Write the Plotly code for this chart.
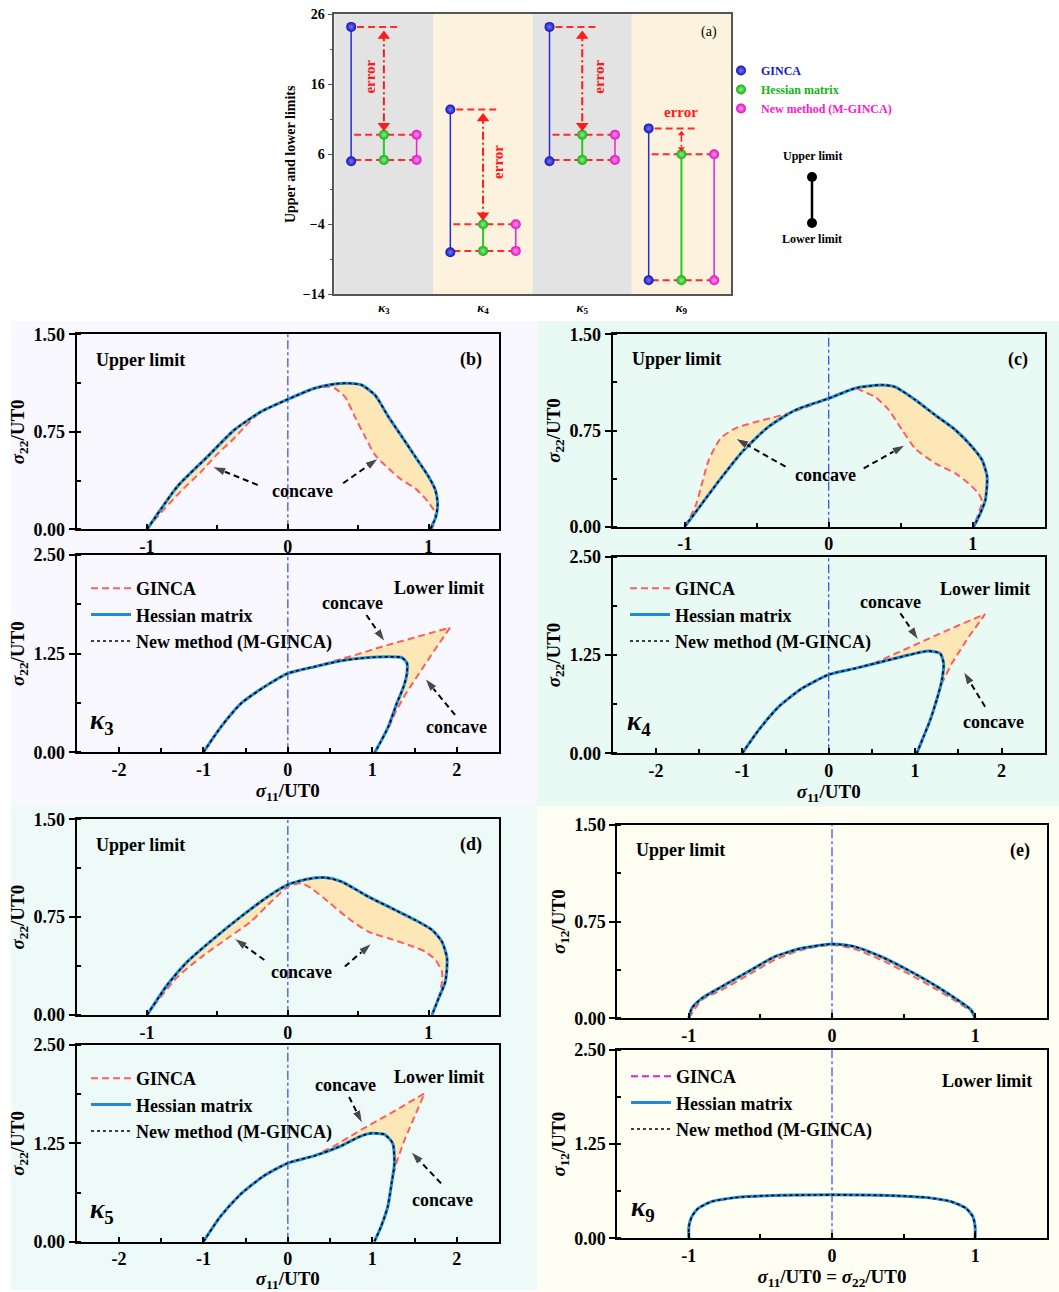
import plotly.graph_objects as go

W, H = 1059, 1292
SERIF = "Liberation Serif"

# ---------------- (a) upper / lower limits of each loading case ----------------
CASE_LABELS = ["<i>κ</i><sub>3</sub>", "<i>κ</i><sub>4</sub>", "<i>κ</i><sub>5</sub>", "<i>κ</i><sub>9</sub>"]
GINCA_UPPER = [24.2, 12.4, 24.2, 9.7]
GINCA_LOWER = [5.0, -8.0, 5.0, -12.0]
HESSIAN_UPPER = [8.8, -4.0, 8.8, 6.0]
HESSIAN_LOWER = [5.2, -7.8, 5.2, -12.0]
MGINCA_UPPER = [8.8, -4.0, 8.8, 6.0]
MGINCA_LOWER = [5.2, -7.8, 5.2, -12.0]
A_Y_TICKS = [-14, -4, 6, 16, 26]

# ---------------- yield-surface sections (x, y pairs) ----------------
# kappa_3
K3_UP_HESS_X = [-1.0, -0.786, -0.571, -0.381, -0.190, 0.0, 0.190, 0.333, 0.429, 0.524, 0.619, 0.714, 0.810, 0.905, 1.0, 1.048, 1.064, 1.052, 1.012]
K3_UP_HESS_Y = [0.0, 0.328, 0.559, 0.764, 0.905, 1.0, 1.085, 1.118, 1.123, 1.110, 1.033, 0.867, 0.713, 0.559, 0.405, 0.303, 0.200, 0.097, 0.0]
K3_UP_GINCA_X = [-1.0, -0.905, -0.762, -0.619, -0.5, -0.381, -0.31, -0.190, 0.0, 0.190, 0.286, 0.333, 0.405, 0.476, 0.548, 0.619, 0.714, 0.810, 0.905, 0.976, 1.036, 1.048, 1.024]
K3_UP_GINCA_Y = [0.0, 0.123, 0.290, 0.440, 0.58, 0.70, 0.785, 0.905, 1.0, 1.085, 1.097, 1.085, 1.020, 0.867, 0.713, 0.572, 0.469, 0.379, 0.315, 0.238, 0.149, 0.085, 0.0]
K3_LO_HESS_X = [-1.0, -0.79, -0.554, -0.277, 0.0, 0.317, 0.634, 0.95, 1.188, 1.35, 1.41, 1.41, 1.37, 1.29, 1.19, 1.09, 1.03]
K3_LO_HESS_Y = [0.0, 0.325, 0.62, 0.83, 1.0, 1.085, 1.16, 1.20, 1.21, 1.20, 1.13, 1.0, 0.83, 0.62, 0.325, 0.114, 0.0]
K3_LO_GINCA_X = [-1.0, -0.79, -0.554, -0.277, 0.0, 0.317, 0.554, 0.79, 1.15, 1.545, 1.92, 1.74, 1.545, 1.386, 1.267, 1.208, 1.109, 1.03]
K3_LO_GINCA_Y = [0.0, 0.325, 0.62, 0.83, 1.0, 1.085, 1.16, 1.23, 1.35, 1.465, 1.58, 1.30, 0.98, 0.726, 0.494, 0.346, 0.156, 0.0]

# kappa_4
K4_UP_HESS_X = [-1.0, -0.88, -0.74, -0.60, -0.417, -0.23, 0.0, 0.185, 0.37, 0.46, 0.60, 0.74, 0.88, 0.995, 1.065, 1.10, 1.088, 1.053, 1.007]
K4_UP_HESS_Y = [0.0, 0.18, 0.39, 0.585, 0.78, 0.91, 1.0, 1.08, 1.105, 1.09, 0.99, 0.87, 0.754, 0.624, 0.52, 0.39, 0.208, 0.104, 0.0]
K4_UP_GINCA_X = [-1.0, -0.926, -0.833, -0.75, -0.648, -0.463, -0.278, -0.185, 0.0, 0.185, 0.23, 0.324, 0.417, 0.51, 0.60, 0.74, 0.88, 0.97, 1.04, 1.065, 1.04, 1.007]
K4_UP_GINCA_Y = [0.0, 0.156, 0.52, 0.69, 0.767, 0.83, 0.884, 0.92, 1.0, 1.08, 1.06, 1.01, 0.91, 0.754, 0.61, 0.494, 0.416, 0.338, 0.26, 0.195, 0.104, 0.0]
K4_LO_HESS_X = [-1.0, -0.81, -0.578, -0.308, 0.0, 0.308, 0.617, 0.925, 1.156, 1.29, 1.33, 1.31, 1.25, 1.175, 1.098, 1.02]
K4_LO_HESS_Y = [0.0, 0.297, 0.593, 0.826, 1.0, 1.08, 1.165, 1.25, 1.30, 1.27, 1.144, 0.93, 0.68, 0.424, 0.212, 0.0]
K4_LO_GINCA_X = [-1.0, -0.81, -0.578, -0.308, 0.0, 0.308, 0.50, 0.694, 1.04, 1.425, 1.81, 1.62, 1.425, 1.31, 1.233, 1.175, 1.098, 1.02]
K4_LO_GINCA_Y = [0.0, 0.297, 0.593, 0.826, 1.0, 1.08, 1.13, 1.229, 1.40, 1.59, 1.77, 1.48, 1.144, 0.89, 0.636, 0.424, 0.212, 0.0]

# kappa_5
K5_UP_HESS_X = [-1.0, -0.857, -0.714, -0.524, -0.333, -0.143, 0.0, 0.143, 0.262, 0.381, 0.571, 0.762, 0.905, 1.024, 1.095, 1.131, 1.119, 1.071, 1.024]
K5_UP_HESS_Y = [0.0, 0.23, 0.409, 0.588, 0.754, 0.907, 1.0, 1.043, 1.053, 1.022, 0.907, 0.805, 0.728, 0.652, 0.562, 0.434, 0.256, 0.128, 0.0]
K5_UP_GINCA_X = [-1.0, -0.929, -0.786, -0.619, -0.429, -0.262, -0.143, -0.048, 0.0, 0.095, 0.167, 0.286, 0.429, 0.571, 0.714, 0.857, 0.976, 1.048, 1.095, 1.095, 1.071, 1.024]
K5_UP_GINCA_Y = [0.0, 0.102, 0.290, 0.440, 0.588, 0.716, 0.843, 0.94, 0.984, 1.01, 0.971, 0.869, 0.741, 0.639, 0.588, 0.537, 0.486, 0.422, 0.332, 0.256, 0.128, 0.0]
K5_LO_HESS_X = [-1.0, -0.8, -0.563, -0.286, 0.0, 0.31, 0.627, 0.865, 0.984, 1.143, 1.242, 1.262, 1.222, 1.183, 1.103, 1.024]
K5_LO_HESS_Y = [0.0, 0.318, 0.6, 0.835, 1.0, 1.09, 1.216, 1.343, 1.377, 1.364, 1.25, 0.996, 0.699, 0.445, 0.19, 0.0]
K5_LO_GINCA_X = [-1.0, -0.8, -0.563, -0.286, 0.0, 0.31, 0.548, 0.865, 1.262, 1.619, 1.5, 1.38, 1.283, 1.235, 1.183, 1.103, 1.024]
K5_LO_GINCA_Y = [0.0, 0.318, 0.6, 0.835, 1.0, 1.09, 1.216, 1.42, 1.66, 1.886, 1.59, 1.29, 0.996, 0.784, 0.445, 0.19, 0.0]

# kappa_9
K9_UP_HESS_X = [-1.0, -0.98, -0.91, -0.77, -0.586, -0.4, -0.214, 0.0, 0.158, 0.344, 0.53, 0.716, 0.879, 0.972, 1.0]
K9_UP_HESS_Y = [0.0, 0.078, 0.155, 0.246, 0.362, 0.478, 0.543, 0.577, 0.556, 0.478, 0.375, 0.259, 0.142, 0.065, 0.0]
K9_UP_GINCA_X = [-1.0, -0.91, -0.77, -0.586, -0.4, -0.214, 0.0, 0.158, 0.344, 0.53, 0.716, 0.879, 0.972, 1.0]
K9_UP_GINCA_Y = [0.0, 0.142, 0.22, 0.336, 0.453, 0.53, 0.569, 0.538, 0.453, 0.349, 0.233, 0.124, 0.052, 0.0]
K9_LO_HESS_X = [-1.0, -1.0, -0.98, -0.935, -0.842, -0.679, -0.447, 0.0, 0.437, 0.67, 0.833, 0.937, 0.984, 1.0, 1.0]
K9_LO_HESS_Y = [0.0, 0.155, 0.288, 0.398, 0.487, 0.54, 0.566, 0.577, 0.566, 0.54, 0.487, 0.398, 0.288, 0.155, 0.0]
K9_LO_GINCA_X = [-1.0, -1.0, -0.98, -0.935, -0.842, -0.679, -0.447, 0.0, 0.437, 0.67, 0.833, 0.937, 0.984, 1.0, 1.0]
K9_LO_GINCA_Y = [0.0, 0.155, 0.288, 0.398, 0.487, 0.54, 0.566, 0.577, 0.566, 0.54, 0.487, 0.398, 0.288, 0.155, 0.0]

X_TICKS_UP = [-1, 0, 1]
X_TICKS_LO = [-2, -1, 0, 1, 2]

# ---------------- styling ----------------
C_GINCA = "#f96060"
C_HESS = "#1f8ad8"
C_FILL = "#fde7b6"
C_ZERO = "#2a45ff"


def font(size, color="black", bold=True, italic=False):
    return dict(family=SERIF, size=size, color=color,
                weight="bold" if bold else "normal",
                style="italic" if italic else "normal")


def fx(px):
    return px / W


def fy(py):
    return 1 - py / H


# subplot boxes in pixels: left, top, right, bottom
BOXES = [
    (334.3, 14.3, 731.0, 294.3),   # 1  (a)
    (76.7, 334.3, 499.0, 529.3),   # 2  (b) upper
    (76.7, 555.0, 499.0, 752.3),   # 3  (b) lower
    (612.7, 334.3, 1044.7, 526.7), # 4  (c) upper
    (612.7, 556.7, 1044.7, 753.3), # 5  (c) lower
    (76.7, 819.3, 499.0, 1015.0),  # 6  (d) upper
    (76.7, 1045.0, 499.0, 1241.7), # 7  (d) lower
    (617.3, 825.0, 1046.7, 1018.3),# 8  (e) upper
    (617.3, 1050.0, 1046.7, 1238.3)# 9  (e) lower
]


def ax_names(n):
    return ("xaxis" if n == 1 else f"xaxis{n}", "yaxis" if n == 1 else f"yaxis{n}",
            "x" if n == 1 else f"x{n}", "y" if n == 1 else f"y{n}")


fig = go.Figure()
layout_axes = {}
shapes = []
annotations = []

# panel background tints
for (x0, y0, x1, y1, col) in [(11, 321, 537, 806, "#f8f8fe"), (537, 321, 1059, 806, "#e9f9f3"),
                              (11, 806, 537, 1290, "#eefaf8"), (537, 806, 1059, 1292, "#fefef3")]:
    shapes.append(dict(type="rect", xref="paper", yref="paper", x0=fx(x0), x1=fx(x1), y0=fy(y1), y1=fy(y0),
                       fillcolor=col, line=dict(width=0), layer="below"))

# ---------------- panel (a) ----------------
xa, ya, xr, yr = ax_names(1)
l, t, r, b = BOXES[0]
layout_axes[xa] = dict(domain=[fx(l), fx(r)], range=[0, 4], anchor=yr, tickvals=[0.5, 1.5, 2.5, 3.5],
                       ticktext=CASE_LABELS, ticks="", showline=True, linecolor="#555555", linewidth=1.5,
                       mirror=True, showgrid=False, zeroline=False, tickfont=font(13), fixedrange=True,
                       automargin=False)
layout_axes[ya] = dict(domain=[fy(b), fy(t)], range=[-14, 26], anchor=xr, tickvals=A_Y_TICKS,
                       ticks="outside", ticklen=5, tickwidth=1.2, tickcolor="#555555",
                       minor=dict(dtick=5, tick0=-14, ticks="outside", ticklen=3, tickcolor="#555555"),
                       showline=True, linecolor="#555555", linewidth=1.5, mirror=True, showgrid=False,
                       zeroline=False, tickfont=font(14), automargin=False,
                       title=dict(text="Upper and lower limits", font=font(14), standoff=4))

for i in range(4):
    shapes.append(dict(type="rect", xref="x", yref="y domain", x0=i, x1=i + 1, y0=0, y1=1,
                       fillcolor="#e3e3e3" if i % 2 == 0 else "#fdf2dd", line=dict(width=0), layer="below"))

methods = [
    ("GINCA", GINCA_UPPER, GINCA_LOWER, 0.17, "#1212b8", "#7878ff", "#2a2ae0", "#1515d0", 1.5),
    ("Hessian matrix", HESSIAN_UPPER, HESSIAN_LOWER, 0.5, "#12b012", "#8cf08c", "#22cc22", "#14b414", 2.0),
    ("New method (M-GINCA)", MGINCA_UPPER, MGINCA_LOWER, 0.83, "#dd10c0", "#ff9cf0", "#ee22cc", "#ff18c8", 1.5),
]

# red guide lines at the limit levels
gx, gy = [], []
for i in range(4):
    for (lev, a0, a1) in [(GINCA_UPPER[i], 0.23, 0.64), (HESSIAN_UPPER[i], 0.2, 0.87), (HESSIAN_LOWER[i], 0.2, 0.87)]:
        gx += [i + a0, i + a1, None]
        gy += [lev, lev, None]
fig.add_trace(go.Scatter(x=gx, y=gy, mode="lines", xaxis=xr, yaxis=yr, showlegend=False, hoverinfo="skip",
                         line=dict(color="#ff2a2a", width=2, dash="7px,4px")))

for name, up, lo, off, mcol, hcol, lcol, tcol, lw in methods:
    lx, ly = [], []
    for i in range(4):
        lx += [i + off, i + off, None]
        ly += [lo[i], up[i], None]
    fig.add_trace(go.Scatter(x=lx, y=ly, mode="lines", xaxis=xr, yaxis=yr, showlegend=False, hoverinfo="skip",
                             line=dict(color=lcol, width=lw)))
for name, up, lo, off, mcol, hcol, lcol, tcol, lw in methods:
    px_ = [i + off for i in range(4)]
    fig.add_trace(go.Scatter(x=px_ + px_, y=list(up) + list(lo), mode="markers", xaxis=xr, yaxis=yr,
                             name=f"<span style='color:{tcol}'>{name}</span>", legend="legend5",
                             marker=dict(size=10, color=mcol, gradient=dict(type="radial", color=hcol),
                                         line=dict(width=0))))

# error arrows between the GINCA and Hessian upper limits
for i in range(4):
    top, bot = GINCA_UPPER[i], HESSIAN_UPPER[i]
    big = (top - bot) > 5
    s = 11 if big else 6
    pad = 0.5 if big else 0.35
    head = pad + (s / 2) / 7.0
    xc = i + 0.5
    fig.add_trace(go.Scatter(x=[xc, xc], y=[top - pad - 0.4, bot + pad + 0.4], mode="lines", xaxis=xr, yaxis=yr,
                             showlegend=False, hoverinfo="skip",
                             line=dict(color="#ff1a1a", width=2 if big else 1.5, dash="8px,3px,2px,3px")))
    fig.add_trace(go.Scatter(x=[xc, xc], y=[top - head, bot + head], mode="markers", xaxis=xr, yaxis=yr,
                             showlegend=False, hoverinfo="skip",
                             marker=dict(symbol=["triangle-up", "triangle-down"], size=s, color="#ff1a1a")))

for (x, y, ang) in [(0.36, 17.1, -90), (1.65, 4.9, -90), (2.66, 17.1, -90), (3.5, 12.1, 0)]:
    annotations.append(dict(x=x, y=y, xref="x", yref="y", text="error", showarrow=False, textangle=ang,
                            xanchor="center", yanchor="middle", font=font(15, "#ff1a1a")))
annotations.append(dict(x=3.78, y=23.5, xref="x", yref="y", text="(a)", showarrow=False,
                        xanchor="center", yanchor="middle", font=font(14, bold=False)))

# upper/lower key beside panel (a)
annotations.append(dict(x=fx(812), y=fy(156), xref="paper", yref="paper", text="Upper limit", showarrow=False,
                        xanchor="center", yanchor="middle", font=font(12)))
annotations.append(dict(x=fx(812), y=fy(239), xref="paper", yref="paper", text="Lower limit", showarrow=False,
                        xanchor="center", yanchor="middle", font=font(12)))
shapes.append(dict(type="line", xref="paper", yref="paper", x0=fx(812), x1=fx(812), y0=fy(177), y1=fy(223),
                   line=dict(color="black", width=2.5)))
for cy in (177, 223):
    shapes.append(dict(type="circle", xref="paper", yref="paper", x0=fx(807), x1=fx(817), y0=fy(cy + 5),
                       y1=fy(cy - 5), fillcolor="black", line=dict(width=0)))

# ---------------- panels (b)-(e) ----------------
panels = [
    (2, 3, (K3_UP_HESS_X, K3_UP_HESS_Y, K3_UP_GINCA_X, K3_UP_GINCA_Y),
     (K3_LO_HESS_X, K3_LO_HESS_Y, K3_LO_GINCA_X, K3_LO_GINCA_Y), "(b)", "3", "22",
     "<i>σ</i><sub>11</sub>/UT0", "legend", C_GINCA, [-2.5, 2.5]),
    (4, 5, (K4_UP_HESS_X, K4_UP_HESS_Y, K4_UP_GINCA_X, K4_UP_GINCA_Y),
     (K4_LO_HESS_X, K4_LO_HESS_Y, K4_LO_GINCA_X, K4_LO_GINCA_Y), "(c)", "4", "22",
     "<i>σ</i><sub>11</sub>/UT0", "legend2", C_GINCA, [-2.5, 2.5]),
    (6, 7, (K5_UP_HESS_X, K5_UP_HESS_Y, K5_UP_GINCA_X, K5_UP_GINCA_Y),
     (K5_LO_HESS_X, K5_LO_HESS_Y, K5_LO_GINCA_X, K5_LO_GINCA_Y), "(d)", "5", "22",
     "<i>σ</i><sub>11</sub>/UT0", "legend3", C_GINCA, [-2.5, 2.5]),
    (8, 9, (K9_UP_HESS_X, K9_UP_HESS_Y, K9_UP_GINCA_X, K9_UP_GINCA_Y),
     (K9_LO_HESS_X, K9_LO_HESS_Y, K9_LO_GINCA_X, K9_LO_GINCA_Y), "(e)", "9", "12",
     "<i>σ</i><sub>11</sub>/UT0 = <i>σ</i><sub>22</sub>/UT0", "legend4", "#e81ed0", [-1.5, 1.5]),
]


def axis_common(domain, rng, anchor):
    return dict(domain=domain, range=rng, anchor=anchor, showline=True, linecolor="black", linewidth=2,
                mirror=True, showgrid=False, zeroline=False, tickfont=font(18), tickcolor="black",
                fixedrange=True, automargin=False)


def add_surface(xr, yr, hx, hy, gx_, gy_, ginca_col, ginca_shape, legend_id=None):
    shape_h = dict(shape="spline", smoothing=0.6)
    fig.add_trace(go.Scatter(x=list(hx) + list(gx_)[::-1], y=list(hy) + list(gy_)[::-1], mode="lines",
                             fill="toself", fillcolor=C_FILL, line=dict(width=0, **shape_h),
                             xaxis=xr, yaxis=yr, showlegend=False, hoverinfo="skip"))
    show = legend_id is not None
    extra = dict(legend=legend_id) if show else {}
    fig.add_trace(go.Scatter(x=gx_, y=gy_, mode="lines", name="GINCA", showlegend=show, xaxis=xr, yaxis=yr,
                             line=dict(color=ginca_col, width=2, dash="7px,4px", shape=ginca_shape,
                                       smoothing=0.6), hoverinfo="skip", **extra))
    fig.add_trace(go.Scatter(x=hx, y=hy, mode="lines", name="Hessian matrix", showlegend=show, xaxis=xr,
                             yaxis=yr, line=dict(color=C_HESS, width=3, **shape_h), hoverinfo="skip", **extra))
    # the M-GINCA section coincides with the Hessian-matrix section
    fig.add_trace(go.Scatter(x=hx, y=hy, mode="lines", name="New method (M-GINCA)", showlegend=show, xaxis=xr,
                             yaxis=yr, line=dict(color="black", width=1.6, dash="dot", **shape_h),
                             hoverinfo="skip", **extra))


for (nu, nl, up, lo, tag, case, ysub, xtitle, leg, gcol, lo_xrange) in panels:
    # upper section
    xa, ya, xr, yr = ax_names(nu)
    l, t, r, b = BOXES[nu - 1]
    layout_axes[xa] = axis_common([fx(l), fx(r)], [-1.5, 1.5], yr)
    layout_axes[xa].update(tickvals=X_TICKS_UP, ticktext=[str(v) for v in X_TICKS_UP], ticks="inside",
                           ticklen=5, tickwidth=1.5, minor=dict(dtick=0.5, tick0=0, ticks="inside", ticklen=4))
    layout_axes[ya] = axis_common([fy(b), fy(t)], [0, 1.5], xr)
    layout_axes[ya].update(tickvals=[0, 0.75, 1.5], tickformat=".2f", ticks="outside", ticklen=6, tickwidth=2,
                           minor=dict(dtick=0.375, tick0=0, ticks="inside", ticklen=4),
                           title=dict(text=f"<i>σ</i><sub>{ysub}</sub>/UT0", font=font(19), standoff=4))
    add_surface(xr, yr, *up, C_GINCA, "spline")
    shapes.append(dict(type="line", xref=xr, yref=f"{yr} domain", x0=0, x1=0, y0=0, y1=1, layer="below",
                       line=dict(color=C_ZERO, width=1.2, dash="dashdot")))
    annotations.append(dict(x=0.04, y=0.87, xref=f"{xr} domain", yref=f"{yr} domain", text="Upper limit",
                            xanchor="left", yanchor="middle", showarrow=False, font=font(18)))
    annotations.append(dict(x=0.965, y=0.87, xref=f"{xr} domain", yref=f"{yr} domain", text=tag,
                            xanchor="right", yanchor="middle", showarrow=False, font=font(18)))

    # lower section
    xa, ya, xr, yr = ax_names(nl)
    l, t, r, b = BOXES[nl - 1]
    ticks_lo = X_TICKS_LO if lo_xrange[1] > 2 else X_TICKS_UP
    layout_axes[xa] = axis_common([fx(l), fx(r)], lo_xrange, yr)
    layout_axes[xa].update(tickvals=ticks_lo, ticktext=[str(v) for v in ticks_lo], ticks="inside", ticklen=5,
                           tickwidth=1.5, minor=dict(dtick=0.5, tick0=0, ticks="inside", ticklen=4),
                           title=dict(text=xtitle, font=font(19), standoff=2))
    layout_axes[ya] = axis_common([fy(b), fy(t)], [0, 2.5], xr)
    layout_axes[ya].update(tickvals=[0, 1.25, 2.5], tickformat=".2f", ticks="outside", ticklen=6, tickwidth=2,
                           minor=dict(dtick=0.625, tick0=0, ticks="inside", ticklen=4),
                           title=dict(text=f"<i>σ</i><sub>{ysub}</sub>/UT0", font=font(19), standoff=4))
    add_surface(xr, yr, *lo, gcol, "linear", legend_id=leg)
    shapes.append(dict(type="line", xref=xr, yref=f"{yr} domain", x0=0, x1=0, y0=0, y1=1, layer="below",
                       line=dict(color=C_ZERO, width=1.2, dash="dashdot")))
    annotations.append(dict(x=0.97, y=0.835, xref=f"{xr} domain", yref=f"{yr} domain", text="Lower limit",
                            xanchor="right", yanchor="middle", showarrow=False, font=font(18)))
    annotations.append(dict(x=0.06, y=0.155, xref=f"{xr} domain", yref=f"{yr} domain",
                            text=f"<i>κ</i><sub>{case}</sub>", xanchor="center", yanchor="middle",
                            showarrow=False, font=font(27)))

# "concave" labels with dashed pointer arrows: (axis no., text position, list of (tail, head))
CONCAVE = [
    (2, (0.107, 0.297), [((-0.214, 0.341), (-0.536, 0.482)), ((0.393, 0.354), (0.643, 0.546))]),
    (3, (0.76, 1.89), [((0.93, 1.74), (1.15, 1.40))]),
    (3, (2.0, 0.325), [((1.98, 0.473), (1.624, 0.937))]),
    (4, (-0.023, 0.403), [((-0.30, 0.468), (-0.648, 0.689)), ((0.243, 0.455), (0.532, 0.637))]),
    (5, (0.713, 1.928), [((0.83, 1.78), (1.04, 1.44))]),
    (5, (1.91, 0.40), [((1.81, 0.593), (1.56, 1.04))]),
    (6, (0.095, 0.332), [((-0.167, 0.422), (-0.381, 0.588)), ((0.405, 0.371), (0.595, 0.549))]),
    (7, (0.685, 1.99), [((0.725, 1.84), (0.883, 1.504))]),
    (7, (1.834, 0.53), [((1.814, 0.742), (1.457, 1.144))]),
]
for n, (tx, ty), arrows in CONCAVE:
    _, _, xr, yr = ax_names(n)
    annotations.append(dict(x=tx, y=ty, xref=xr, yref=yr, text="concave", showarrow=False,
                            xanchor="center", yanchor="middle", font=font(18)))
    for (t0, t1) in arrows:
        fig.add_trace(go.Scatter(x=[t0[0], t1[0]], y=[t0[1], t1[1]], mode="lines+markers", xaxis=xr, yaxis=yr,
                                 showlegend=False, hoverinfo="skip",
                                 line=dict(color="black", width=2, dash="6px,4px"),
                                 marker=dict(symbol="arrow", angleref="previous", size=[0, 14], color="black")))

legend_base = dict(bgcolor="rgba(0,0,0,0)", borderwidth=0, font=font(18), xanchor="left", yanchor="top",
                   itemwidth=40, tracegroupgap=0, traceorder="normal")
legends = dict(
    legend=dict(legend_base, x=fx(86), y=fy(570)),
    legend2=dict(legend_base, x=fx(625), y=fy(570)),
    legend3=dict(legend_base, x=fx(86), y=fy(1060)),
    legend4=dict(legend_base, x=fx(626), y=fy(1058)),
    legend5=dict(bgcolor="rgba(0,0,0,0)", borderwidth=0, font=font(12), xanchor="left", yanchor="top",
                 x=fx(721), y=fy(56), itemwidth=30, traceorder="normal"),
)

fig.update_layout(width=W, height=H, autosize=False,
                  margin=dict(l=0, r=0, t=0, b=0, pad=0, autoexpand=False),
                  paper_bgcolor="white", plot_bgcolor="rgba(0,0,0,0)", shapes=shapes, annotations=annotations,
                  font=font(16), hovermode=False, **layout_axes, **legends)

fig.write_html("out.html")
